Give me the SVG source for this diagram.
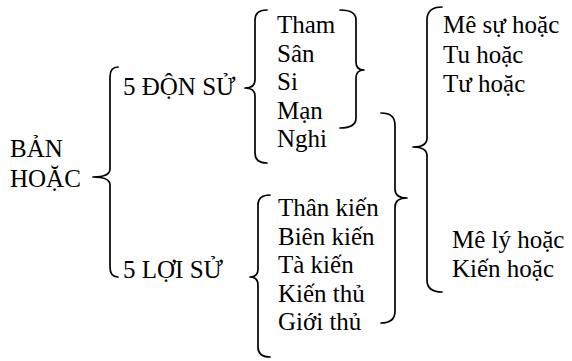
<svg xmlns="http://www.w3.org/2000/svg" width="572" height="361" viewBox="0 0 572 361">
<style>
text{font-family:'Liberation Serif','Times New Roman',serif;font-size:25px;fill:#000}
.b{fill:none;stroke:#000;stroke-width:1.7;stroke-linecap:round;stroke-linejoin:round}
</style>
<rect width="572" height="361" fill="#fff"/>
<g id="connectors">
<path class="b" d="M118,67 Q110,67 110,77 L110,169 Q110,177 93,177 Q110,177 110,185 L110,267 Q110,277 118,277"/>
<path class="b" d="M267,10 Q255,10 255,20 L255,80 Q255,88 245,88 Q255,88 255,96 L255,153 Q255,163 267,163"/>
<path class="b" d="M340,10 Q356,10 356,20 L356,62 Q356,70 364,70 Q356,70 356,78 L356,118 Q356,128 340,128"/>
<path class="b" d="M381,113 Q395,113 395,125 L395,189 Q395,198 407,198 Q395,198 395,207 L395,311 Q395,323 381,323"/>
<path class="b" d="M442,7 Q427,7 427,20 L427,138 Q427,147 413,147 Q427,147 427,156 L427,280 Q427,292 442,292"/>
<path class="b" d="M270,195 Q258,195 258,205 L258,269 Q258,277 250,277 Q258,277 258,285 L258,347 Q258,357 270,357"/>
</g>
<g id="ban-hoac"><text x="10" y="157">BẢN</text><text x="10" y="187">HOẶC</text></g>
<g id="don-su"><text x="123" y="95">5 ĐỘN SỬ</text></g>
<g id="loi-su"><text x="123" y="278">5 LỢI SỬ</text></g>
<g id="don-su-items">
<text x="277" y="33">Tham</text>
<text x="277" y="61.5">Sân</text>
<text x="277" y="90">Si</text>
<text x="277" y="118.5">Mạn</text>
<text x="277" y="147">Nghi</text>
</g>
<g id="loi-su-items">
<text x="278" y="216">Thân kiến</text>
<text x="278" y="244.5">Biên kiến</text>
<text x="278" y="273">Tà kiến</text>
<text x="278" y="301.5">Kiến thủ</text>
<text x="278" y="330">Giới thủ</text>
</g>
<g id="tu-hoac">
<text x="443" y="33">Mê sự hoặc</text>
<text x="443" y="63">Tu hoặc</text>
<text x="443" y="92">Tư hoặc</text>
</g>
<g id="kien-hoac">
<text x="452" y="248">Mê lý hoặc</text>
<text x="452" y="277">Kiến hoặc</text>
</g>
</svg>
